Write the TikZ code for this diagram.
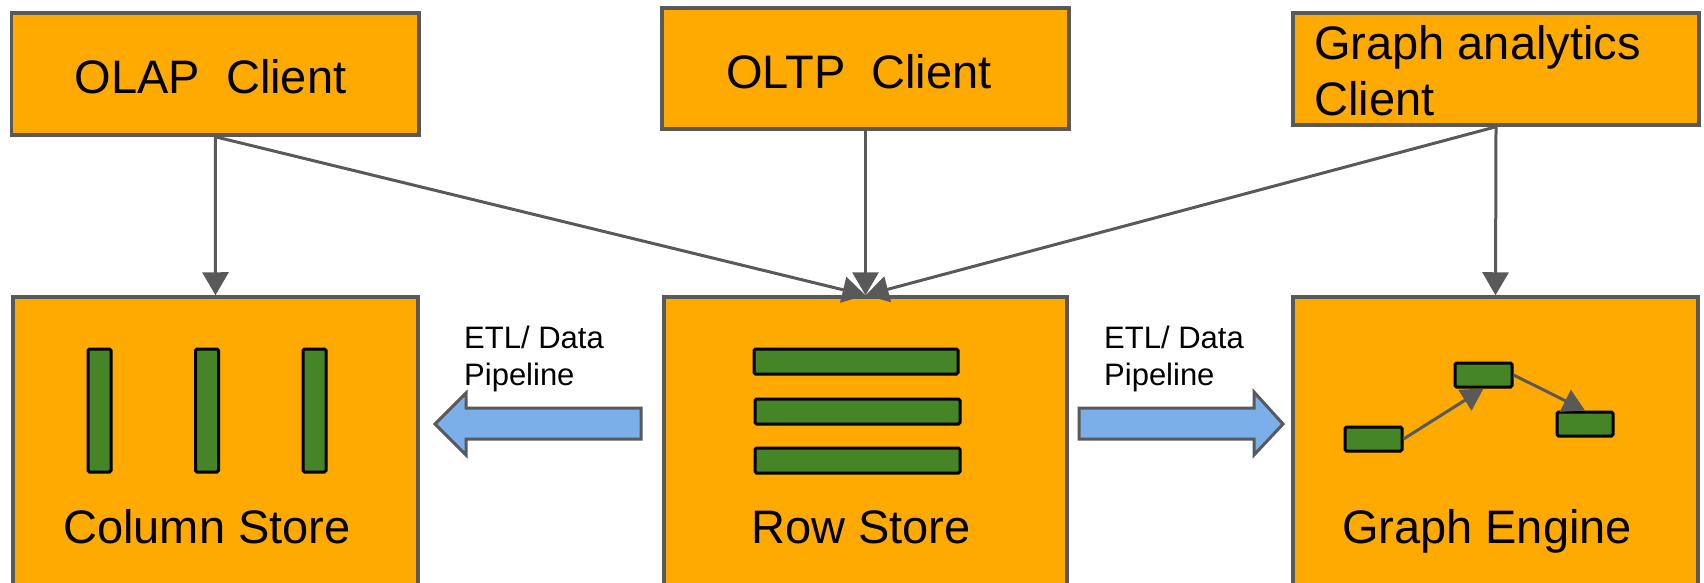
\documentclass[tikz,border=0pt]{standalone}
\usepackage{fontspec}
\setmainfont{Liberation Sans}
\usetikzlibrary{arrows.meta}
\definecolor{boxorange}{HTML}{FFAA00}
\definecolor{edgegray}{HTML}{595959}
\definecolor{bargreen}{HTML}{458527}
\definecolor{pipeblue}{HTML}{7BAFEA}
\begin{document}
\begin{tikzpicture}[x=1pt,y=-1pt,
  box/.style={draw=edgegray, line width=3.5pt, fill=boxorange, inner sep=0pt, rectangle},
  bar/.style={draw=black, line width=3pt, fill=bargreen, rounded corners=1.5pt, inner sep=0pt, rectangle},
  big/.style={font=\fontsize{47}{56}\selectfont, inner sep=0pt, anchor=base},
  bigw/.style={font=\fontsize{47}{56}\selectfont, inner sep=0pt, anchor=base west},
  etl/.style={font=\fontsize{31}{37}\selectfont, inner sep=0pt, anchor=base west},
  conn/.style={draw=edgegray, line width=3pt, -{Triangle[length=23pt,width=26pt]}},
  small/.style={draw=edgegray, line width=3pt, -{Triangle[length=22pt,width=24pt]}},
  pipe/.style={draw=edgegray, line width=3pt, fill=pipeblue, line join=miter}
]
\useasboundingbox (0,0) rectangle (1704,582);
\clip (0,0) rectangle (1704,582);

% client boxes
\node[box, minimum width=407.5pt, minimum height=122pt] (olap) at (215.25,74) {};
\node[big] (olapT) at (210.5,93) {OLAP\ \ Client};
\node[box, minimum width=407pt, minimum height=121pt] (oltp) at (865.5,68.5) {};
\node[big] (oltpT) at (859,88) {OLTP\ \ Client};
\node[box, minimum width=406pt, minimum height=112pt] (ga) at (1496,69) {};
\node[bigw] (gaT1) at (1314,59) {Graph analytics};
\node[bigw] (gaT2) at (1314,115) {Client};

% store boxes
\node[box, minimum width=405pt, minimum height=303pt] (col) at (215.5,448.5) {};
\node[big] (colT) at (207,543) {Column Store};
\node[box, minimum width=403pt, minimum height=303pt] (row) at (865.5,448.5) {};
\node[big] (rowT) at (861,543) {Row Store};
\node[box, minimum width=405pt, minimum height=303pt] (ge) at (1495.5,448.5) {};
\node[big] (geT) at (1487,543) {Graph Engine};

% column bars
\node[bar, minimum width=23pt, minimum height=123pt] (cb1) at (99.5,410.5) {};
\node[bar, minimum width=23pt, minimum height=123pt] (cb2) at (207,410.5) {};
\node[bar, minimum width=23pt, minimum height=123pt] (cb3) at (314.5,410.5) {};

% row bars
\node[bar, minimum width=204pt, minimum height=25pt] (rb1) at (856,361.5) {};
\node[bar, minimum width=205pt, minimum height=25pt] (rb2) at (857.5,411.5) {};
\node[bar, minimum width=205pt, minimum height=25pt] (rb3) at (857.5,460.5) {};

% graph nodes
\node[bar, minimum width=57pt, minimum height=24pt] (g1) at (1373.5,439) {};
\node[bar, minimum width=57pt, minimum height=24pt] (g2) at (1483.5,375) {};
\node[bar, minimum width=56pt, minimum height=24pt] (g3) at (1585,424) {};
\draw[small] (g1.east) -- (g2.south);
\draw[small] (g2.east) -- (g3.north);

% connectors
\draw[conn] (olap.south) -- (col.north);
\draw[conn] (olap.south) -- (row.north);
\draw[conn] (oltp.south) -- (row.north);
\draw[conn] (ga.south) -- (row.north);
\draw[conn] (ga.south) -- (ge.north);

% pipelines
\draw[pipe] (641,408) -- (466,408) -- (466,393) -- (435,424) -- (466,455) -- (466,439) -- (641,439) -- cycle;
\node[etl] (etlL1) at (464,348) {ETL/ Data};
\node[etl] (etlL2) at (464,385) {Pipeline};
\draw[pipe] (1079,408) -- (1254,408) -- (1254,392) -- (1283,424) -- (1254,455) -- (1254,439) -- (1079,439) -- cycle;
\node[etl] (etlR1) at (1104,348) {ETL/ Data};
\node[etl] (etlR2) at (1104,385) {Pipeline};
\end{tikzpicture}
\end{document}
